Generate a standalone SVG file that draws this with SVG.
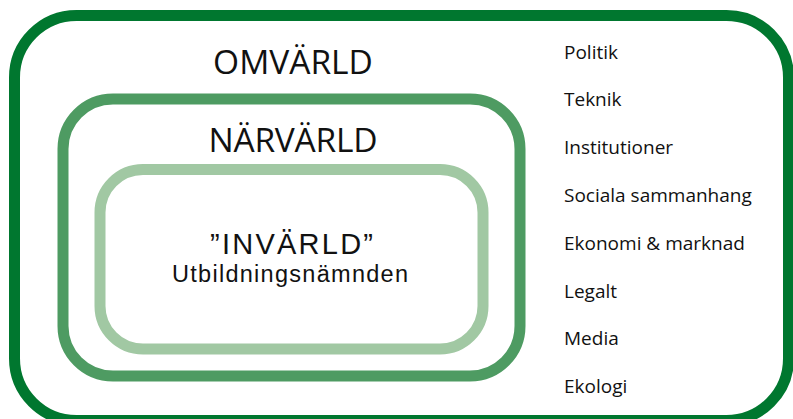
<svg xmlns="http://www.w3.org/2000/svg" width="793" height="419" viewBox="0 0 793 419">
  <style>
    .ring { fill: none; stroke-width: 11; }
    .outer { stroke: #00772f; }
    .middle { stroke: #4e9b62; }
    .inner { stroke: #a1c8a3; }
    text { font-family: "Open Sans", "Liberation Sans", sans-serif; fill: #111; }
    .title { font-size: 33.5px; text-anchor: middle; }
    .item { font-size: 19px; }
    .label { font-family: "Liberation Sans", "Open Sans", sans-serif; text-anchor: middle; }
  </style>
  <rect width="793" height="419" fill="#ffffff"/>

  <!-- outer world -->
  <g id="omvarld">
    <rect class="ring outer" x="14.5" y="15.5" width="774" height="405" rx="62" ry="62"/>
    <text class="title" x="293" y="73.5">OMVÄRLD</text>
  </g>

  <!-- near world -->
  <g id="narvarld">
    <rect class="ring middle" x="63" y="99" width="457" height="277" rx="50" ry="50"/>
    <text class="title" x="293" y="151.5" textLength="169" lengthAdjust="spacing">NÄRVÄRLD</text>
  </g>

  <!-- inner world: two-line label -->
  <g id="invarld">
    <rect class="ring inner" x="100" y="169.5" width="383" height="179.5" rx="43" ry="43"/>
    <text class="label" x="291.5" y="253.5" font-size="29" textLength="163" lengthAdjust="spacing">”INVÄRLD”</text>
    <text class="label" x="290" y="281.5" font-size="23.5" textLength="236" lengthAdjust="spacing">Utbildningsnämnden</text>
  </g>

  <!-- external factors -->
  <g id="faktorer">
    <text class="item" x="564" y="58.5">Politik</text>
    <text class="item" x="564" y="106">Teknik</text>
    <text class="item" x="564" y="154">Institutioner</text>
    <text class="item" x="564" y="202">Sociala sammanhang</text>
    <text class="item" x="564" y="250">Ekonomi &amp; marknad</text>
    <text class="item" x="564" y="297.5">Legalt</text>
    <text class="item" x="564" y="345">Media</text>
    <text class="item" x="564" y="393">Ekologi</text>
  </g>

  <g id="connectors"/>
</svg>
